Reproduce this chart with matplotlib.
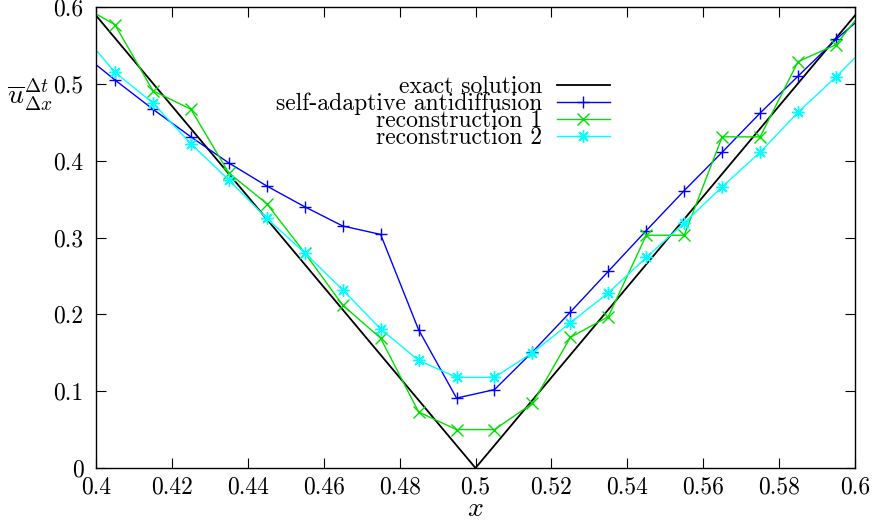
import matplotlib
matplotlib.use("Agg")
import matplotlib.pyplot as plt

plt.rcParams['font.family'] = ['cmr10', 'DejaVu Serif']
plt.rcParams['mathtext.fontset'] = 'cm'
plt.rcParams['axes.formatter.use_mathtext'] = True

# exact solution
x_exact = [0.4, 0.5, 0.6]
u_exact = [0.589, 0.0, 0.589]

# cell centres (incl. one ghost cell on each side, clipped by the axes)
x_cells = [0.395, 0.405, 0.415, 0.425, 0.435, 0.445, 0.455, 0.465, 0.475, 0.485,
           0.495, 0.505, 0.515, 0.525, 0.535, 0.545, 0.555, 0.565, 0.575, 0.585,
           0.595, 0.605]
u_selfadaptive = [0.545, 0.505, 0.467, 0.431, 0.397, 0.367, 0.340, 0.315, 0.304, 0.180,
                  0.091, 0.102, 0.151, 0.203, 0.256, 0.309, 0.361, 0.411, 0.462, 0.510,
                  0.558, 0.600]
u_recon1 = [0.605, 0.577, 0.491, 0.467, 0.384, 0.344, 0.280, 0.212, 0.169, 0.073,
            0.050, 0.050, 0.084, 0.170, 0.197, 0.303, 0.303, 0.431, 0.431, 0.529,
            0.551, 0.613]
u_recon2 = [0.573, 0.515, 0.475, 0.422, 0.375, 0.325, 0.280, 0.232, 0.181, 0.140,
            0.118, 0.118, 0.150, 0.189, 0.228, 0.274, 0.319, 0.366, 0.411, 0.463,
            0.509, 0.559]

labels = ["exact solution", "self-adaptive antidiffusion",
          "reconstruction 1", "reconstruction 2"]
xticks = [0.4, 0.42, 0.44, 0.46, 0.48, 0.5, 0.52, 0.54, 0.56, 0.58, 0.6]
xticklabels = ["0.4", "0.42", "0.44", "0.46", "0.48", "0.5", "0.52", "0.54", "0.56", "0.58", "0.6"]
yticks = [0, 0.1, 0.2, 0.3, 0.4, 0.5, 0.6]
yticklabels = ["0", "0.1", "0.2", "0.3", "0.4", "0.5", "0.6"]

fig = plt.figure(figsize=(8.73, 5.22), dpi=100)
ax = fig.add_axes([96/873, 54/522, 759/873, 461/522])

ax.plot(x_exact, u_exact, color='black', lw=1.3, label=labels[0])
ax.plot(x_cells, u_selfadaptive, color='#0000ff', lw=1.0, marker='+', ms=9, mew=1.0,
        label=labels[1])
ax.plot(x_cells, u_recon1, color='#00e000', lw=1.0, marker='x', ms=8, mew=1.0,
        label=labels[2])
ax.plot(x_cells, u_recon2, color='#00ffff', lw=1.0, marker=(8, 2, 0), ms=9, mew=1.0,
        label=labels[3])

ax.set_xlim(0.4, 0.6)
ax.set_ylim(0, 0.6)
ax.set_xticks(xticks)
ax.set_xticklabels(xticklabels)
ax.set_yticks(yticks)
ax.set_yticklabels(yticklabels)
ax.tick_params(direction='in', length=7, width=0.8, top=True, right=True,
               labelsize=17)
ax.tick_params(axis='x', pad=6)
ax.tick_params(axis='y', pad=9)
for s in ax.spines.values():
    s.set_linewidth(1.0)

ax.set_xlabel('$x$', fontsize=20)
ax.xaxis.set_label_coords(0.5, -0.088)
ax.xaxis.label.set_va('center')
ax.set_ylabel(r'$\overline{u}_{\Delta x}^{\Delta t}$', fontsize=20, rotation=0,
              ha='center', va='center')
ax.yaxis.set_label_coords(-0.087, 0.81)

leg = ax.legend(loc='upper right', bbox_to_anchor=(0.677, 0.851), frameon=False,
                markerfirst=False, fontsize=17, handlelength=2.25, handletextpad=0.6,
                labelspacing=-0.22, borderpad=0, borderaxespad=0)

fig.savefig('out.png', dpi=100)
